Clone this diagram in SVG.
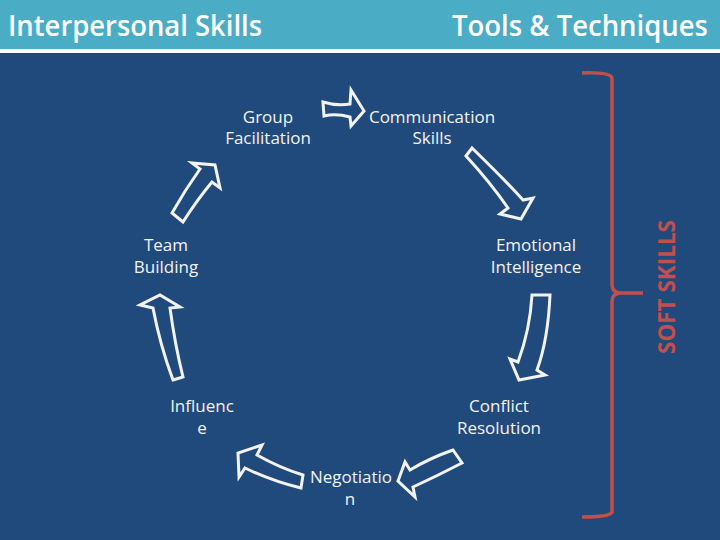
<svg xmlns="http://www.w3.org/2000/svg" width="720" height="540" viewBox="0 0 720 540">
<style>
.hdr{font-family:"Open Sans","Liberation Sans",sans-serif;font-size:28px;font-weight:600;fill:#ffffff}
.lbl{font-family:"Open Sans","Liberation Sans",sans-serif;font-size:17px;fill:#f2f2f2;text-anchor:middle}
.arr{fill:none;stroke:#f2f2f2;stroke-width:3;stroke-linejoin:miter}
.brace{fill:none;stroke:#c0504d;stroke-width:3.5}
.soft{font-family:"Open Sans","Liberation Sans",sans-serif;font-size:23px;font-weight:700;fill:#c0504d;text-anchor:middle}
</style>
<rect x="0" y="0" width="720" height="540" fill="#ffffff"/>
<rect x="0" y="0" width="720" height="49" fill="#4bacc6"/>
<rect x="0" y="53" width="720" height="487" fill="#214a7c"/>
<g id="header">
<text class="hdr" x="8" y="36" textLength="254" lengthAdjust="spacingAndGlyphs">Interpersonal Skills</text>
<text class="hdr" x="452" y="36" textLength="256" lengthAdjust="spacingAndGlyphs">Tools &amp; Techniques</text>
</g>
<g id="group-facilitation"><text class="lbl" x="268" y="123">Group</text><text class="lbl" x="268" y="144">Facilitation</text></g>
<g id="communication-skills"><text class="lbl" x="432" y="123">Communication</text><text class="lbl" x="432" y="144">Skills</text></g>
<g id="emotional-intelligence"><text class="lbl" x="536" y="251">Emotional</text><text class="lbl" x="536" y="273">Intelligence</text></g>
<g id="conflict-resolution"><text class="lbl" x="499" y="412">Conflict</text><text class="lbl" x="499" y="434">Resolution</text></g>
<g id="negotiation"><text class="lbl" x="351" y="483">Negotiatio</text><text class="lbl" x="350" y="505">n</text></g>
<g id="influence"><text class="lbl" x="202" y="412">Influenc</text><text class="lbl" x="202" y="434">e</text></g>
<g id="team-building"><text class="lbl" x="166" y="251">Team</text><text class="lbl" x="166" y="273">Building</text></g>
<g id="connectors">
<path class="arr" d="M323,102 Q336,106 350,104 L351,90 L364,111 L351,126 L350,117 Q336,113 324,116 Z"/>
<path class="arr" d="M472,148 Q505,180 523,200 L533,198 L521,219 L500,214 L508,208 Q490,182 466,156 Z"/>
<path class="arr" d="M532,295 L550,295 Q548,340 537,370 L545,375 L519,380 L510,359 L518,362 Q530,330 532,295 Z"/>
<path class="arr" d="M453,450 L462,463 Q437,476 413,487 L415,497 L398,481 L405,462 L410,470 Q430,458 453,450 Z"/>
<path class="arr" d="M303,475 L301,488 Q272,481 245,468 L239,477 L238,453 L262,445 L257,455 Q280,468 303,475 Z"/>
<path class="arr" d="M173,380 L183,377 Q175,345 170,308 L180,307 L160,295 L140,305 L153,308 Q160,345 173,380 Z"/>
<path class="arr" d="M172,213 L183,222 Q197,200 212,182 L220,188 L215,165 L192,163 L200,169 Q185,190 172,213 Z"/>
</g>
<g id="soft-skills">
<path class="brace" d="M582,73 Q610,72 612,78 L612,285 Q612,292 620,293 L643,293 M620,293 Q612,294 612,301 L612,512 Q610,517 582,517"/>
<text class="soft" transform="translate(675,287) rotate(-90)" textLength="134" lengthAdjust="spacingAndGlyphs">SOFT SKILLS</text>
</g>
</svg>
